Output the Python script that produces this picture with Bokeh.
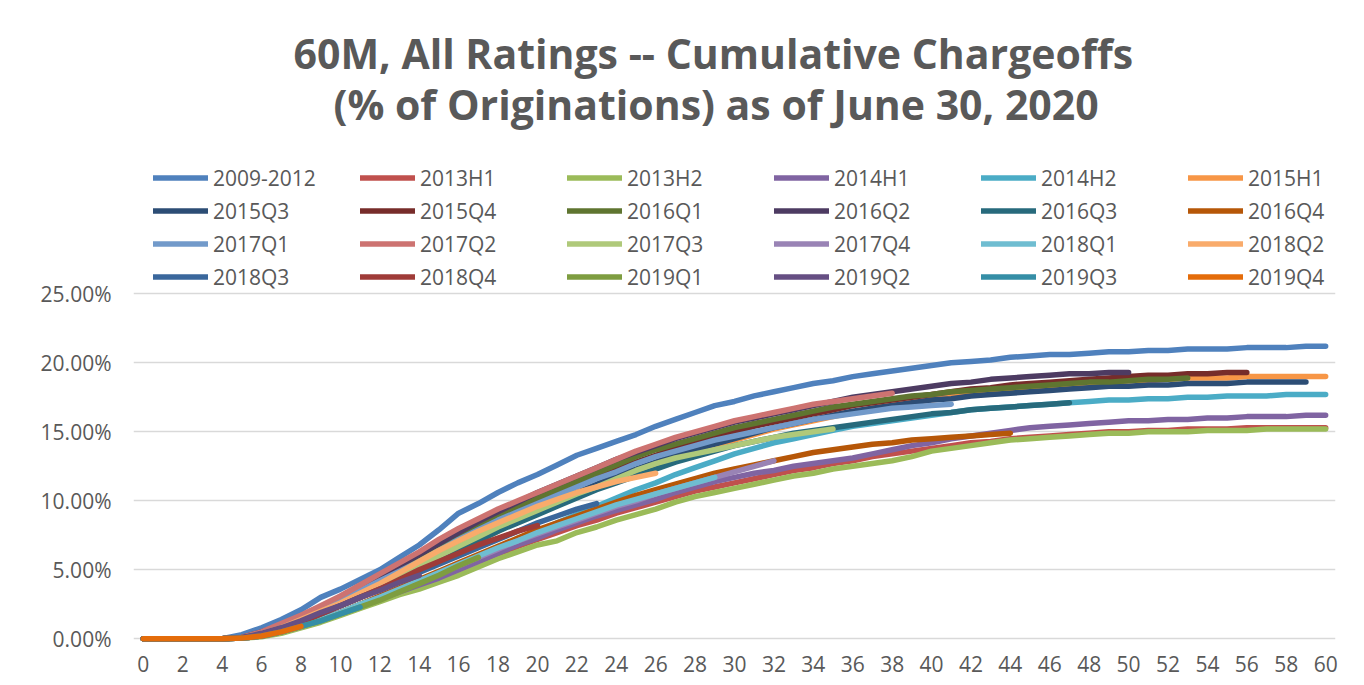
from bokeh.plotting import figure
from bokeh.models import Legend, LegendItem, Title, FixedTicker, PrintfTickFormatter, Range1d
from bokeh.embed import file_html
from bokeh.resources import INLINE

title_line1 = "60M, All Ratings -- Cumulative Chargeoffs"
title_line2 = "(% of Originations) as of June 30, 2020"

x_ticks = list(range(0, 61, 2))
y_ticks = [0, 5, 10, 15, 20, 25]

series_names = ["2009-2012", "2013H1", "2013H2", "2014H1", "2014H2", "2015H1",
                "2015Q3", "2015Q4", "2016Q1", "2016Q2", "2016Q3", "2016Q4",
                "2017Q1", "2017Q2", "2017Q3", "2017Q4", "2018Q1", "2018Q2",
                "2018Q3", "2018Q4", "2019Q1", "2019Q2", "2019Q3", "2019Q4"]

series_colors = ["#4F81BD", "#C0504D", "#9BBB59", "#8064A2", "#4BACC6", "#F79646",
                 "#2C4D75", "#772C2A", "#5F7530", "#4D3B62", "#276A7C", "#B65708",
                 "#729ACA", "#CD7371", "#AFC97A", "#9983B5", "#6FBDD1", "#F9AB6B",
                 "#3A679C", "#9F3B38", "#7E9D40", "#664F83", "#358EA6", "#E46C0A"]

# cumulative chargeoffs, % of originations, by month on book (0, 1, 2, ...)
s2009_2012 = [0, 0, 0, 0, 0, 0.3, 0.8, 1.4, 2.1, 3.0, 3.6, 4.3, 5.0, 5.9, 6.8, 7.9, 9.1, 9.8, 10.6, 11.3,
              11.9, 12.6, 13.3, 13.8, 14.3, 14.8, 15.4, 15.9, 16.4, 16.9, 17.2, 17.6, 17.9, 18.2, 18.5, 18.7,
              19.0, 19.2, 19.4, 19.6, 19.8, 20.0, 20.1, 20.2, 20.4, 20.5, 20.6, 20.6, 20.7, 20.8, 20.8, 20.9,
              20.9, 21.0, 21.0, 21.0, 21.1, 21.1, 21.1, 21.2, 21.2]
s2013H1 = [0, 0, 0, 0, 0, 0.05, 0.2, 0.5, 0.9, 1.4, 1.9, 2.4, 2.9, 3.4, 3.9, 4.4, 5.0, 5.6, 6.1, 6.7,
           7.2, 7.7, 8.2, 8.6, 9.1, 9.5, 9.9, 10.3, 10.7, 11.0, 11.3, 11.6, 11.9, 12.2, 12.4, 12.7, 12.9,
           13.2, 13.4, 13.6, 13.8, 14.0, 14.2, 14.3, 14.5, 14.6, 14.7, 14.8, 14.9, 15.0, 15.0, 15.1, 15.1,
           15.2, 15.2, 15.2, 15.3, 15.3, 15.3, 15.3, 15.3]
s2013H2 = [0, 0, 0, 0, 0, 0.05, 0.15, 0.4, 0.8, 1.2, 1.7, 2.2, 2.7, 3.2, 3.6, 4.1, 4.6, 5.2, 5.8, 6.3,
           6.8, 7.1, 7.7, 8.1, 8.6, 9.0, 9.4, 9.9, 10.3, 10.6, 10.9, 11.2, 11.5, 11.8, 12.0, 12.3, 12.5,
           12.7, 12.9, 13.2, 13.6, 13.8, 14.0, 14.2, 14.4, 14.5, 14.6, 14.7, 14.8, 14.9, 14.9, 15.0, 15.0,
           15.0, 15.1, 15.1, 15.1, 15.2, 15.2, 15.2, 15.2]
s2014H1 = [0, 0, 0, 0, 0, 0.05, 0.2, 0.5, 0.9, 1.4, 1.9, 2.4, 2.9, 3.4, 3.9, 4.4, 5.0, 5.6, 6.2, 6.8,
           7.3, 7.9, 8.4, 8.9, 9.3, 9.7, 10.1, 10.6, 11.0, 11.4, 11.7, 12.0, 12.2, 12.5, 12.7, 12.9, 13.1,
           13.4, 13.7, 14.0, 14.2, 14.5, 14.7, 14.9, 15.1, 15.3, 15.4, 15.5, 15.6, 15.7, 15.8, 15.8, 15.9,
           15.9, 16.0, 16.0, 16.1, 16.1, 16.1, 16.2, 16.2]
s2014H2 = [0, 0, 0, 0, 0, 0.05, 0.2, 0.5, 0.9, 1.4, 1.9, 2.5, 3.0, 3.6, 4.2, 4.8, 5.4, 6.0, 6.6, 7.2,
           7.8, 8.4, 9.0, 9.6, 10.2, 10.8, 11.3, 11.9, 12.4, 12.9, 13.4, 13.8, 14.2, 14.5, 14.8, 15.1,
           15.4, 15.6, 15.8, 16.0, 16.2, 16.4, 16.6, 16.7, 16.8, 16.9, 17.0, 17.1, 17.2, 17.3, 17.3, 17.4,
           17.4, 17.5, 17.5, 17.6, 17.6, 17.6, 17.7, 17.7, 17.7]
s2015H1 = [0, 0, 0, 0, 0, 0.1, 0.3, 0.7, 1.2, 1.8, 2.4, 3.0, 3.6, 4.3, 5.0, 5.7, 6.4, 7.1, 7.8, 8.5,
           9.2, 9.8, 10.4, 11.0, 11.6, 12.1, 12.6, 13.1, 13.6, 14.0, 14.4, 14.8, 15.2, 15.5, 15.8, 16.1,
           16.4, 16.7, 16.9, 17.1, 17.3, 17.5, 17.7, 17.9, 18.0, 18.1, 18.3, 18.4, 18.5, 18.6, 18.7, 18.7,
           18.8, 18.9, 18.9, 18.9, 19.0, 19.0, 19.0, 19.0, 19.0]
s2015Q3 = [0, 0, 0, 0, 0, 0.1, 0.4, 0.8, 1.3, 1.9, 2.5, 3.1, 3.8, 4.5, 5.2, 5.9, 6.6, 7.3, 8.0, 8.7,
           9.4, 10.0, 10.6, 11.2, 11.8, 12.3, 12.8, 13.3, 13.7, 14.1, 14.5, 14.9, 15.3, 15.6, 15.9, 16.2,
           16.5, 16.7, 16.9, 17.1, 17.3, 17.4, 17.6, 17.7, 17.8, 17.9, 18.0, 18.1, 18.2, 18.3, 18.3, 18.4,
           18.4, 18.5, 18.5, 18.5, 18.6, 18.6, 18.6, 18.6]
s2015Q4 = [0, 0, 0, 0, 0, 0.1, 0.4, 0.9, 1.5, 2.1, 2.8, 3.5, 4.2, 4.9, 5.6, 6.4, 7.1, 7.8, 8.5, 9.2,
           9.9, 10.5, 11.1, 11.7, 12.3, 12.8, 13.3, 13.8, 14.2, 14.6, 15.0, 15.4, 15.7, 16.0, 16.3, 16.6,
           16.9, 17.1, 17.3, 17.5, 17.7, 17.9, 18.1, 18.2, 18.4, 18.5, 18.6, 18.7, 18.8, 18.9, 19.0, 19.1,
           19.1, 19.2, 19.2, 19.3, 19.3]
s2016Q1 = [0, 0, 0, 0, 0, 0.1, 0.4, 0.9, 1.5, 2.2, 2.9, 3.6, 4.3, 5.0, 5.8, 6.6, 7.4, 8.2, 8.9, 9.6,
           10.2, 10.8, 11.4, 12.0, 12.6, 13.2, 13.7, 14.1, 14.5, 14.9, 15.3, 15.6, 15.9, 16.2, 16.5, 16.8,
           17.0, 17.2, 17.4, 17.6, 17.7, 17.9, 18.0, 18.1, 18.2, 18.3, 18.4, 18.5, 18.6, 18.6, 18.7, 18.8,
           18.8, 18.9]
s2016Q2 = [0, 0, 0, 0, 0, 0.1, 0.5, 1.0, 1.6, 2.3, 3.0, 3.7, 4.5, 5.3, 6.1, 6.9, 7.7, 8.5, 9.2, 9.9,
           10.6, 11.2, 11.8, 12.4, 13.0, 13.5, 14.0, 14.5, 14.9, 15.3, 15.7, 16.0, 16.3, 16.6, 16.9, 17.2,
           17.5, 17.7, 17.9, 18.1, 18.3, 18.5, 18.6, 18.8, 18.9, 19.0, 19.1, 19.2, 19.2, 19.3, 19.3]
s2016Q3 = [0, 0, 0, 0, 0, 0.1, 0.3, 0.7, 1.2, 1.8, 2.4, 3.0, 3.6, 4.3, 5.0, 5.7, 6.4, 7.1, 7.8, 8.4,
           9.0, 9.6, 10.2, 10.8, 11.3, 11.8, 12.3, 12.8, 13.2, 13.6, 14.0, 14.3, 14.6, 14.9, 15.1, 15.3,
           15.5, 15.7, 15.9, 16.1, 16.3, 16.4, 16.6, 16.7, 16.8, 16.9, 17.0, 17.1]
s2016Q4 = [0, 0, 0, 0, 0, 0.05, 0.2, 0.5, 0.9, 1.4, 1.9, 2.5, 3.1, 3.7, 4.3, 4.9, 5.5, 6.1, 6.7, 7.3,
           7.9, 8.4, 8.9, 9.4, 9.9, 10.4, 10.8, 11.2, 11.6, 12.0, 12.3, 12.6, 12.9, 13.2, 13.5, 13.7,
           13.9, 14.1, 14.2, 14.4, 14.5, 14.6, 14.7, 14.8, 14.9]
s2017Q1 = [0, 0, 0, 0, 0, 0.1, 0.4, 0.9, 1.5, 2.1, 2.8, 3.5, 4.2, 4.9, 5.6, 6.4, 7.2, 7.9, 8.6, 9.2,
           9.8, 10.4, 11.0, 11.6, 12.1, 12.7, 13.2, 13.6, 14.0, 14.4, 14.7, 15.0, 15.3, 15.6, 15.9, 16.1,
           16.3, 16.5, 16.7, 16.8, 16.9, 17.0]
s2017Q2 = [0, 0, 0, 0, 0, 0.1, 0.5, 1.1, 1.7, 2.4, 3.1, 3.9, 4.7, 5.5, 6.3, 7.2, 8.0, 8.7, 9.4, 10.0,
           10.6, 11.2, 11.8, 12.4, 13.0, 13.6, 14.1, 14.6, 15.0, 15.4, 15.8, 16.1, 16.4, 16.7, 17.0, 17.2,
           17.4, 17.6, 17.8]
s2017Q3 = [0, 0, 0, 0, 0, 0.1, 0.3, 0.8, 1.3, 1.9, 2.5, 3.2, 3.9, 4.6, 5.3, 6.0, 6.7, 7.4, 8.1, 8.7,
           9.3, 9.9, 10.5, 11.0, 11.6, 12.2, 12.7, 13.1, 13.4, 13.7, 14.0, 14.3, 14.6, 14.8, 15.0, 15.2]
s2017Q4 = [0, 0, 0, 0, 0, 0.05, 0.2, 0.5, 0.9, 1.4, 1.9, 2.4, 3.0, 3.5, 4.1, 4.7, 5.3, 5.9, 6.5, 7.1,
           7.6, 8.1, 8.6, 9.1, 9.6, 10.0, 10.5, 10.9, 11.3, 11.7, 12.1, 12.5, 12.9]
s2018Q1 = [0, 0, 0, 0, 0, 0.05, 0.2, 0.5, 0.9, 1.4, 1.9, 2.5, 3.0, 3.6, 4.2, 4.8, 5.4, 6.0, 6.6, 7.1,
           7.7, 8.2, 8.7, 9.2, 9.7, 10.1, 10.5, 10.9, 11.3, 11.7]
s2018Q2 = [0, 0, 0, 0, 0, 0.1, 0.4, 0.8, 1.4, 2.0, 2.6, 3.3, 4.0, 4.8, 5.6, 6.4, 7.1, 7.8, 8.4, 9.0,
           9.6, 10.1, 10.6, 11.0, 11.4, 11.7, 12.0]
s2018Q3 = [0, 0, 0, 0, 0, 0.05, 0.3, 0.7, 1.2, 1.8, 2.4, 3.0, 3.6, 4.2, 4.8, 5.4, 6.0, 6.6, 7.2, 7.8,
           8.4, 8.9, 9.4, 9.8]
s2018Q4 = [0, 0, 0, 0, 0, 0.1, 0.3, 0.7, 1.2, 1.8, 2.4, 3.0, 3.6, 4.3, 5.0, 5.6, 6.2, 6.8, 7.3, 7.8, 8.2]
s2019Q1 = [0, 0, 0, 0, 0, 0.05, 0.2, 0.5, 0.9, 1.3, 1.8, 2.3, 2.8, 3.4, 4.0, 4.6, 5.3, 5.9]
s2019Q2 = [0, 0, 0, 0, 0, 0.1, 0.4, 0.8, 1.3, 1.9, 2.4, 3.0, 3.5, 4.1, 4.6]
s2019Q3 = [0, 0, 0, 0, 0, 0.05, 0.2, 0.5, 0.9, 1.3, 1.8, 2.3]
s2019Q4 = [0, 0, 0, 0, 0, 0.05, 0.2, 0.5, 0.9]

series_values = [s2009_2012, s2013H1, s2013H2, s2014H1, s2014H2, s2015H1,
                 s2015Q3, s2015Q4, s2016Q1, s2016Q2, s2016Q3, s2016Q4,
                 s2017Q1, s2017Q2, s2017Q3, s2017Q4, s2018Q1, s2018Q2,
                 s2018Q3, s2018Q4, s2019Q1, s2019Q2, s2019Q3, s2019Q4]

GRAY = "#595959"
FONT = "Open Sans"

# frame: top 140 px (room for legend inside), 0% at y=638.3 px, 25% at y=293.3 px
p = figure(width=1364, height=685, title=None,
           x_range=Range1d(-0.5, 60.5), y_range=Range1d(-0.268, 36.109),
           output_backend="svg", toolbar_location=None,
           min_border_left=133, min_border_right=29, min_border_top=140, min_border_bottom=43)
p.outline_line_color = None
p.background_fill_color = "white"
p.border_fill_color = "white"

renderers = []
for name, vals, col in zip(series_names, series_values, series_colors):
    r = p.line(list(range(len(vals))), vals, line_color=col, line_width=5.5,
               line_join="round", line_cap="round")
    renderers.append(r)

# axes
p.xaxis.ticker = FixedTicker(ticks=x_ticks)
p.yaxis.ticker = FixedTicker(ticks=y_ticks)
p.yaxis.formatter = PrintfTickFormatter(format="%.2f%%")
for ax in (p.xaxis[0], p.yaxis[0]):
    ax.axis_line_color = None
    ax.major_tick_line_color = None
    ax.minor_tick_line_color = None
    ax.major_tick_in = 0
    ax.major_tick_out = 0
    ax.major_label_text_font = FONT
    ax.major_label_text_font_size = "21px"
    ax.major_label_text_color = GRAY
p.yaxis.major_label_standoff = 22
p.xaxis.major_label_standoff = 13
p.xgrid.grid_line_color = None
p.ygrid.grid_line_color = "#D9D9D9"
p.ygrid.grid_line_width = 1.5

legend = Legend(items=[LegendItem(label=n, renderers=[r]) for n, r in zip(series_names, renderers)],
                orientation="horizontal", ncols=6, location=(20, 349),
                glyph_width=55, glyph_height=33, label_height=33, label_width=147,
                label_standoff=5, spacing=0, padding=0, margin=0,
                label_text_font=FONT, label_text_font_size="21px", label_text_color=GRAY,
                background_fill_alpha=0, border_line_alpha=0)
p.add_layout(legend, "center")

t2 = Title(text=title_line2, align="left", offset=200, standoff=17,
           text_font=FONT, text_font_style="bold", text_font_size="41px", text_color=GRAY)
p.add_layout(t2, "above")
t1 = Title(text=title_line1, align="left", offset=160, standoff=-31,
           text_font=FONT, text_font_style="bold", text_font_size="41px", text_color=GRAY)
p.add_layout(t1, "above")

open("out.html", "w").write(file_html(p, INLINE))
